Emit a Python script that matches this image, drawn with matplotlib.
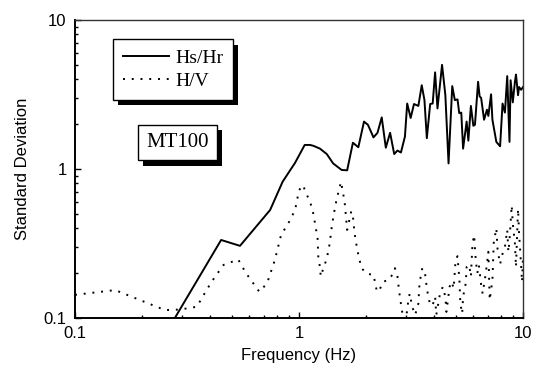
import matplotlib
matplotlib.use('Agg')
import matplotlib.pyplot as plt
import matplotlib.patheffects as pe
from matplotlib.ticker import LogLocator, NullFormatter, FixedFormatter, FixedLocator

# Hs/Hr standard deviation curve
f_hshr = [0.25, 0.279, 0.449, 0.545, 0.743, 0.845, 0.96, 1.06, 1.12, 1.16, 1.24, 1.33,
          1.42, 1.55, 1.64, 1.74, 1.84, 1.95, 2.03, 2.15, 2.24, 2.34, 2.44, 2.55, 2.66,
          2.75, 2.85, 2.97, 3.04, 3.15, 3.26, 3.41, 3.53, 3.63, 3.72, 3.85, 3.95, 4.05,
          4.15, 4.35, 4.5, 4.65, 4.83, 4.96, 5.1, 5.19, 5.3, 5.4, 5.6, 5.7, 5.85, 6.0,
          6.1, 6.3, 6.4, 6.5, 6.7, 6.9, 7.0, 7.2, 7.3, 7.6, 7.9, 8.1, 8.3, 8.5, 8.7,
          8.8, 9.0, 9.2, 9.3, 9.5, 9.6, 9.8, 10.0]
s_hshr = [0.085, 0.1, 0.334, 0.305, 0.531, 0.822, 1.1, 1.45, 1.45, 1.43, 1.37, 1.26,
          1.09, 0.985, 0.98, 1.50, 1.40, 2.08, 1.98, 1.63, 1.75, 2.22, 1.39, 1.75, 1.26,
          1.33, 1.29, 1.65, 2.75, 2.2, 2.73, 2.65, 3.65, 2.9, 1.61, 2.73, 2.75, 4.45,
          2.55, 5.0, 3.13, 1.09, 3.6, 2.9, 2.93, 2.37, 2.39, 1.37, 2.08, 1.55, 2.65, 1.95,
          1.98, 3.85, 3.07, 3.0, 2.14, 2.5, 2.27, 3.17, 2.14, 1.52, 1.42, 2.75, 2.39, 4.2,
          1.52, 3.94, 2.8, 3.85, 4.3, 3.13, 3.55, 3.4, 3.55]

# H/V standard deviation curve
f_hv = [0.1, 0.151, 0.195, 0.252, 0.294, 0.35, 0.368, 0.407, 0.46, 0.535, 0.58, 0.665,
        0.72, 0.78, 0.835, 0.88, 0.96, 1.0, 1.04, 1.08, 1.12, 1.15, 1.17, 1.21, 1.22,
        1.24, 1.25, 1.29, 1.33, 1.37, 1.40, 1.43, 1.47, 1.52, 1.54, 1.57, 1.6, 1.62,
        1.64, 1.67, 1.71, 1.74, 1.77, 1.82, 1.90, 2.01, 2.15, 2.22, 2.27, 2.37, 2.51,
        2.58, 2.68, 2.75, 2.8, 2.87, 2.93, 2.98, 3.07, 3.12, 3.2, 3.3, 3.41, 3.45, 3.55,
        3.65, 3.73, 3.85, 3.95, 4.05, 4.1, 4.25, 4.38, 4.5, 4.55, 4.7, 4.8, 4.9, 5.0,
        5.1, 5.2, 5.25, 5.35, 5.4, 5.55, 5.6, 5.75, 5.85, 5.95, 6.05, 6.15, 6.25, 6.35,
        6.5, 6.6, 6.75, 6.9, 7.0, 7.1, 7.3, 7.4, 7.6, 7.7, 7.9, 8.1, 8.3, 8.5, 8.6,
        8.7, 8.9, 9.0, 9.2, 9.3, 9.5, 9.6, 9.8, 9.9, 10.0]
s_hv = [0.143, 0.154, 0.132, 0.113, 0.114, 0.119, 0.136, 0.175, 0.227, 0.247, 0.2, 0.15,
        0.171, 0.245, 0.37, 0.41, 0.53, 0.72, 0.78, 0.68, 0.6, 0.53, 0.46, 0.343, 0.25,
        0.221, 0.19, 0.22, 0.25, 0.315, 0.41, 0.5, 0.62, 0.76, 0.82, 0.7, 0.59, 0.48,
        0.39, 0.44, 0.52, 0.48, 0.37, 0.286, 0.216, 0.198, 0.195, 0.154, 0.15, 0.175, 0.18,
        0.19, 0.216, 0.19, 0.15, 0.116, 0.095, 0.09, 0.128, 0.146, 0.119, 0.105, 0.125, 0.171, 0.216,
        0.2, 0.154, 0.122, 0.122, 0.139, 0.105, 0.143, 0.162, 0.139, 0.11, 0.162, 0.175, 0.158, 0.245,
        0.26, 0.18, 0.125, 0.107, 0.139, 0.171, 0.22, 0.227, 0.19, 0.316, 0.36, 0.245, 0.2, 0.227,
        0.167, 0.146, 0.18, 0.23, 0.278, 0.132, 0.18, 0.32, 0.4, 0.286, 0.23, 0.27, 0.3, 0.39, 0.278,
        0.33, 0.57, 0.43, 0.316, 0.22, 0.54, 0.37, 0.227, 0.175, 0.26]

fig = plt.figure(figsize=(5.37, 3.70), dpi=100)
ax = fig.add_axes([0.1397, 0.1405, 0.8343, 0.8055])

ax.plot(f_hshr, s_hshr, color='black', lw=1.4, label='Hs/Hr')
ax.plot(f_hv, s_hv, color='black', lw=1.4, linestyle=(0, (1, 3.5)), label='H/V')

ax.set_xscale('log')
ax.set_yscale('log')
ax.set_xlim(0.1, 10)
ax.set_ylim(0.1, 10)

for a in (ax.xaxis, ax.yaxis):
    a.set_major_locator(FixedLocator([0.1, 1, 10]))
    a.set_major_formatter(FixedFormatter(['0.1', '1', '10']))
    a.set_minor_locator(LogLocator(base=10, subs=range(2, 10)))
    a.set_minor_formatter(NullFormatter())

ax.tick_params(which='both', direction='in', top=False, right=False,
               labelsize=12, pad=6, width=1)
ax.tick_params(which='major', length=4)
ax.tick_params(which='minor', length=2.5)
for lbl in ax.get_xticklabels() + ax.get_yticklabels():
    lbl.set_fontfamily('Liberation Sans')

for side in ('left', 'bottom'):
    ax.spines[side].set_linewidth(1.4)
for side in ('top', 'right'):
    ax.spines[side].set_linewidth(1.0)
    ax.spines[side].set_color('#333333')

ax.set_xlabel('Frequency (Hz)', fontsize=12, family='Liberation Sans', labelpad=5)
ax.set_ylabel('Standard Deviation', fontsize=12, family='Liberation Sans', labelpad=10)

shadow = [pe.SimplePatchShadow(offset=(3.8, -3.8), shadow_rgbFace='black', alpha=1.0),
          pe.Normal()]

leg = ax.legend(loc='upper left', bbox_to_anchor=(0.085, 0.935), frameon=True,
                fancybox=False, edgecolor='black', framealpha=1,
                prop={'family': 'Liberation Serif', 'size': 14},
                handlelength=2.4, handletextpad=0.3, borderpad=0.5, labelspacing=0.3,
                borderaxespad=0)
leg.get_frame().set_linewidth(1.0)
leg.get_frame().set_path_effects(shadow)

txt = ax.text(0.228, 0.589, 'MT100', transform=ax.transAxes, ha='center', va='center',
              fontsize=15, family='Liberation Serif',
              bbox=dict(boxstyle='square,pad=0.4', facecolor='white', edgecolor='black', lw=1.0))
txt.get_bbox_patch().set_path_effects(shadow)

fig.savefig('out.png', dpi=100)
